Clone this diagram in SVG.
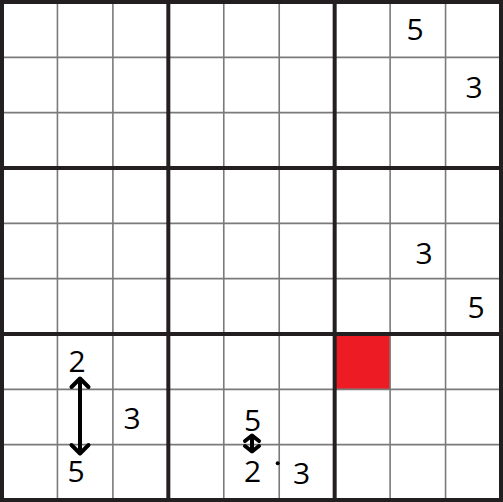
<svg xmlns="http://www.w3.org/2000/svg" width="503" height="502" viewBox="0 0 503 502">
<style>
.thin{stroke:#7a7a7a;stroke-width:1.6;fill:none}
.thick{stroke:#231f20;stroke-width:4;fill:none;stroke-linecap:square}
.d{font-family:"Open Sans","DejaVu Sans",sans-serif;font-size:30px;fill:#000;text-anchor:middle}
.arr{stroke:#000;stroke-width:4;fill:none;stroke-linecap:round;stroke-linejoin:round}
</style>
<rect x="0" y="0" width="503" height="502" fill="#fff"/>
<g id="highlight"><rect x="334.67" y="334" width="55.44" height="55.33" fill="#ed1c24"/></g>
<g id="grid">
<g class="thin">
<line x1="57.44" y1="2" x2="57.44" y2="500"/>
<line x1="112.89" y1="2" x2="112.89" y2="500"/>
<line x1="223.78" y1="2" x2="223.78" y2="500"/>
<line x1="279.22" y1="2" x2="279.22" y2="500"/>
<line x1="390.11" y1="2" x2="390.11" y2="500"/>
<line x1="445.56" y1="2" x2="445.56" y2="500"/>
<line x1="2" y1="57.33" x2="501" y2="57.33"/>
<line x1="2" y1="112.67" x2="501" y2="112.67"/>
<line x1="2" y1="223.33" x2="501" y2="223.33"/>
<line x1="2" y1="278.67" x2="501" y2="278.67"/>
<line x1="2" y1="389.33" x2="501" y2="389.33"/>
<line x1="2" y1="444.67" x2="501" y2="444.67"/>
</g>
<g class="thick">
<line x1="2" y1="2" x2="2" y2="500"/>
<line x1="168.33" y1="2" x2="168.33" y2="500"/>
<line x1="334.67" y1="2" x2="334.67" y2="500"/>
<line x1="501" y1="2" x2="501" y2="500"/>
<line x1="2" y1="2" x2="501" y2="2"/>
<line x1="2" y1="168" x2="501" y2="168"/>
<line x1="2" y1="334" x2="501" y2="334"/>
<line x1="2" y1="500" x2="501" y2="500"/>
</g>
</g>
<g id="digits">
<text id="n-r0c7" class="d" x="415" y="40">5</text>
<text id="n-r1c8" class="d" x="474" y="97.7">3</text>
<text id="n-r4c7" class="d" x="424" y="264">3</text>
<text id="n-r5c8" class="d" x="476" y="317.5">5</text>
<text id="n-r6c1" class="d" x="77" y="371.5">2</text>
<text id="n-r7c2" class="d" x="132" y="429">3</text>
<text id="n-r8c1" class="d" x="76" y="481.5">5</text>
<text id="n-r7c4" class="d" x="252.5" y="431">5</text>
<text id="n-r8c4" class="d" x="252.5" y="481.5">2</text>
<text id="n-r8c5" class="d" x="301.5" y="484">3</text>
</g>
<g id="connectors">
<g class="arr">
<line x1="80" y1="379" x2="80" y2="453"/>
<polyline points="71.5,387 80,378.5 88.5,387"/>
<polyline points="71.5,445 80,453.5 88.5,445"/>
<line x1="252" y1="436" x2="252" y2="451"/>
<polyline points="245,441 252,435.5 259,441"/>
<polyline points="245,446 252,451.5 259,446"/>
</g>
<circle cx="277.7" cy="463.3" r="2" fill="#000"/>
</g>
</svg>
